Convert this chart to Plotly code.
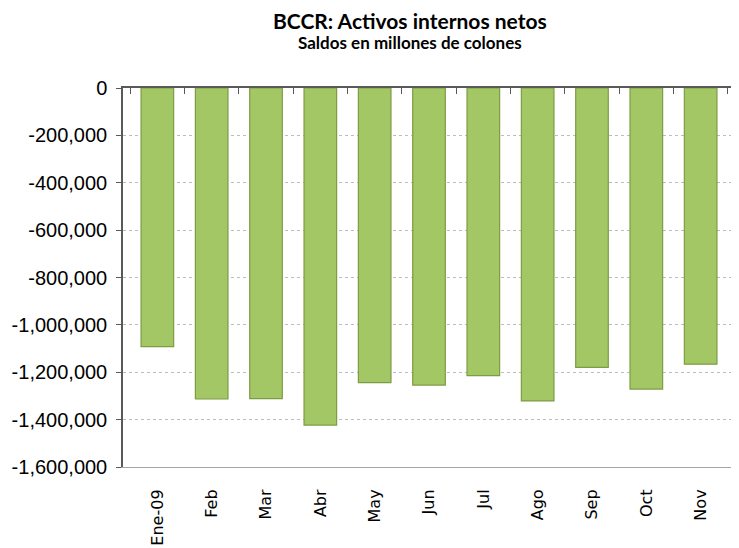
import plotly.graph_objects as go

# BCCR net domestic assets, millions of colones
meses = ["Ene-09", "Feb", "Mar", "Abr", "May", "Jun", "Jul", "Ago", "Sep", "Oct", "Nov"]
saldos = [-1092000, -1313000, -1311000, -1423000, -1244000, -1254000,
          -1214000, -1321000, -1179000, -1271000, -1166000]
y_ticks = [0, -200000, -400000, -600000, -800000, -1000000, -1200000, -1400000, -1600000]
y_labels = ["0", "-200,000", "-400,000", "-600,000", "-800,000", "-1,000,000",
            "-1,200,000", "-1,400,000", "-1,600,000"]

titulo = "BCCR: Activos internos netos"
subtitulo = "Saldos en millones de colones"

fig = go.Figure()

# bars
fig.add_trace(go.Bar(
    x=meses, y=saldos,
    marker=dict(color="#A4C765", line=dict(color="#7D9C44", width=1.2)),
    width=0.6,
    showlegend=False,
))
# invisible traces so the top axis (boundary ticks) and right border show
fig.add_trace(go.Scatter(x=meses, y=saldos, xaxis="x2", mode="markers",
                         marker=dict(opacity=0), showlegend=False, hoverinfo="skip"))
fig.add_trace(go.Scatter(x=meses, y=saldos, yaxis="y2", mode="markers",
                         marker=dict(opacity=0), showlegend=False, hoverinfo="skip"))

# page body has an 8px margin, so the figure is 8px smaller than the window
fig.update_layout(
    width=731, height=540,
    margin=dict(l=115, r=4, t=80, b=81),
    paper_bgcolor="white", plot_bgcolor="white",
    xaxis=dict(
        type="category", automargin=False,
        tickangle=-90, ticklabelstandoff=15,
        tickfont=dict(family="DejaVu Sans", size=16, color="black"),
        showline=True, linecolor="#A6A6A6", linewidth=1,
        ticks="", showgrid=False,
    ),
    xaxis2=dict(
        type="category", overlaying="x", side="top", automargin=False,
        showticklabels=False, ticks="inside", ticklen=6, tickcolor="#595959",
        tickson="boundaries", showline=True, linecolor="#595959", linewidth=1.5,
        showgrid=False, matches="x",
    ),
    yaxis=dict(
        range=[-1600000, 0], automargin=False,
        tickvals=y_ticks, ticktext=y_labels, ticklabelstandoff=5,
        tickfont=dict(family="Liberation Sans, Arial", size=20, color="black"),
        showline=True, linecolor="#595959", linewidth=1.5,
        ticks="outside", ticklen=5, tickcolor="#595959",
        showgrid=True, gridcolor="#BDBDBD", griddash="dot", gridwidth=1,
        zeroline=False,
    ),
    yaxis2=dict(
        overlaying="y", side="right", automargin=False, showticklabels=False,
        showline=True, linecolor="#A6A6A6", linewidth=1,
        showgrid=False, zeroline=False, matches="y", ticks="",
    ),
    bargap=0.4,
    annotations=[
        dict(text="<b>" + titulo + "</b>", xref="paper", yref="paper",
             x=0.469, y=1.177, xanchor="center", yanchor="middle", showarrow=False,
             font=dict(family="Lato, Open Sans, sans-serif", size=21, color="black")),
        dict(text="<b>" + subtitulo + "</b>", xref="paper", yref="paper",
             x=0.469, y=1.120, xanchor="center", yanchor="middle", showarrow=False,
             font=dict(family="Lato, Open Sans, sans-serif", size=17, color="black")),
    ],
)

fig.write_html("out.html")
